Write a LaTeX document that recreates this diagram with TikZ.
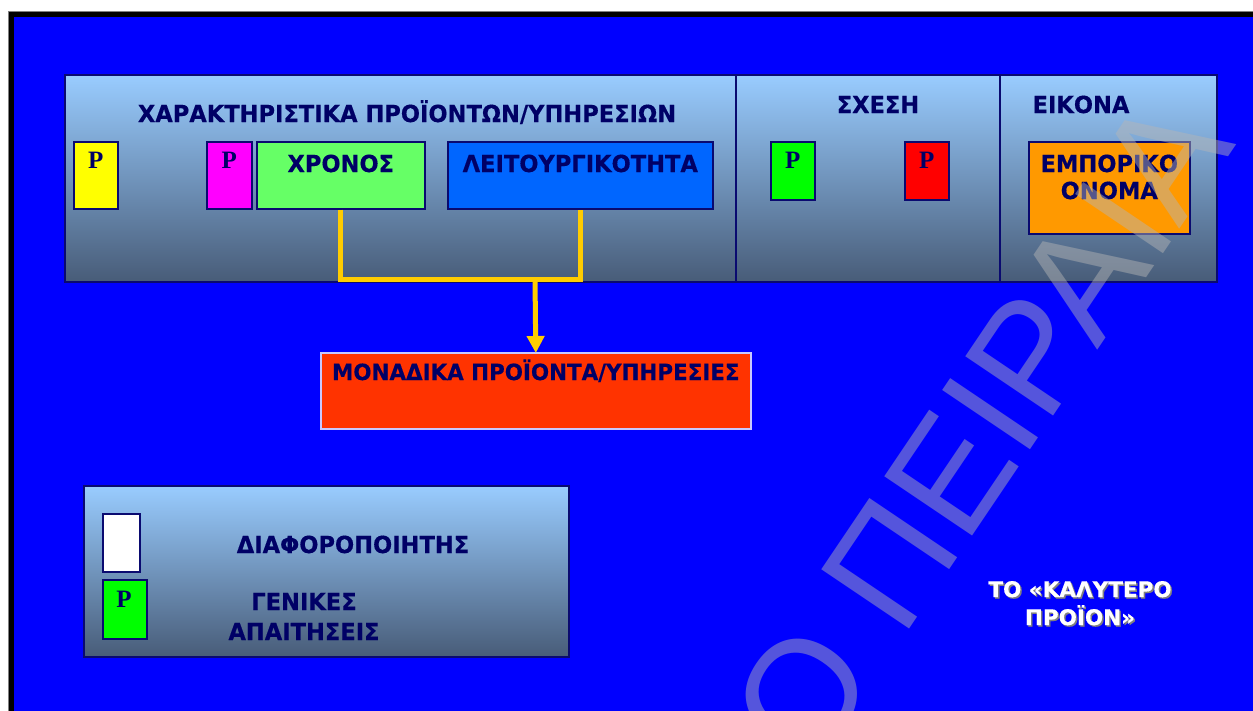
\documentclass[tikz,border=0pt]{standalone}
\usepackage{fontspec}
\usetikzlibrary{arrows.meta,calc}
\newfontfamily\lblfont[FakeStretch=0.96,BoldFeatures={FakeBold=0.4}]{DejaVu Sans}
\newfontfamily\capfont[BoldFeatures={FakeBold=0.4}]{DejaVu Sans}
\newfontfamily\pfont{Liberation Serif}
\newfontfamily\wmfont{Liberation Sans}
\definecolor{navy}{HTML}{000066}
\definecolor{edge}{HTML}{0A0A70}
\definecolor{bgblue}{HTML}{0000FF}
\definecolor{paneltop}{HTML}{99CCFF}
\definecolor{panelbot}{HTML}{485C78}
\definecolor{pyellow}{HTML}{FFFF00}
\definecolor{pmagenta}{HTML}{FF00FF}
\definecolor{pgreen}{HTML}{00FF00}
\definecolor{pred}{HTML}{FF0000}
\definecolor{timegreen}{HTML}{66FF66}
\definecolor{funcblue}{HTML}{0066FF}
\definecolor{brandorange}{HTML}{FF9900}
\definecolor{uniquered}{HTML}{FF3300}
\definecolor{uniqueedge}{HTML}{C8C8FF}
\definecolor{linkyellow}{HTML}{FFCC00}
\definecolor{wmgray}{HTML}{B6B6B6}
\begin{document}
\begin{tikzpicture}[x=1pt,y=-1pt,
  panel/.style={draw=edge, line width=1.6pt, top color=paneltop, bottom color=panelbot,
    inner sep=0pt, anchor=north west},
  card/.style={draw=edge, line width=1.6pt, inner sep=0pt, anchor=north west},
  lbl/.style={text=navy, inner sep=0pt, anchor=base,
    font=\lblfont\bfseries\fontsize{23.5}{27}\selectfont},
  plbl/.style={text=navy, inner sep=0pt, anchor=base,
    font=\pfont\bfseries\fontsize{25}{28}\selectfont},
  link/.style={draw=linkyellow, line width=5pt, line join=miter},
  bestlbl/.style={inner sep=0pt, anchor=base,
    font=\capfont\bfseries\fontsize{21.5}{25}\selectfont}
]
% page, black frame and blue field
\useasboundingbox (0,0) rectangle (1253,710);
\clip (0,0) rectangle (1253,710);
\fill[white] (0,0) rectangle (1253,710);
\filldraw[fill=black, draw=gray, line width=0.8pt] (8.5,11.5) rectangle (1260,720);
\fill[bgblue] (14,17) rectangle (1260,720);

% upper panel with three sections
\node[panel, minimum width=1152pt, minimum height=207pt] (top) at (64,74) {};
\draw[edge, line width=1.6pt] ($(top.north west)+(672,0)$) -- ($(top.south west)+(672,0)$);
\draw[edge, line width=1.6pt] ($(top.north west)+(936,0)$) -- ($(top.south west)+(936,0)$);

\node[lbl] (title) at (407,122) {ΧΑΡΑΚΤΗΡΙΣΤΙΚΑ ΠΡΟΪΟΝΤΩΝ/ΥΠΗΡΕΣΙΩΝ};
\node[lbl] (relation) at (878,113) {ΣΧΕΣΗ};
\node[lbl] (image) at (1081,113) {ΕΙΚΟΝΑ};

\node[card, fill=pyellow, minimum width=44pt, minimum height=67pt] (py) at (73,141) {};
\node[card, fill=pmagenta, minimum width=45pt, minimum height=67pt] (pm) at (206,141) {};
\node[card, fill=timegreen, minimum width=168pt, minimum height=67pt] (time) at (256,141) {};
\node[card, fill=funcblue, minimum width=265pt, minimum height=67pt] (func) at (447,141) {};
\node[card, fill=pgreen, minimum width=44pt, minimum height=58pt] (pg) at (770,141) {};
\node[card, fill=pred, minimum width=44pt, minimum height=58pt] (pr) at (904,141) {};
\node[card, fill=brandorange, minimum width=161pt, minimum height=92pt] (brand) at (1028,141) {};

\node[plbl] (pyt) at ($(py.north)+(0,27)$) {P};
\node[plbl] (pmt) at ($(pm.north)+(0,27)$) {P};
\node[plbl] (pgt) at ($(pg.north)+(0,27)$) {P};
\node[plbl] (prt) at ($(pr.north)+(0,27)$) {P};
\node[lbl] (timet) at ($(time.north)+(0,31)$) {ΧΡΟΝΟΣ};
\node[lbl] (funct) at ($(func.north)+(0,31)$) {ΛΕΙΤΟΥΡΓΙΚΟΤΗΤΑ};
\node[lbl] (brand1) at ($(brand.north)+(0,31)$) {ΕΜΠΟΡΙΚΟ};
\node[lbl] (brand2) at ($(brand.north)+(0,58)$) {ΟΝΟΜΑ};

% result box
\node[card, draw=uniqueedge, fill=uniquered, minimum width=430pt, minimum height=76pt] (unique) at (320,352) {};
\node[lbl, font=\lblfont\bfseries\fontsize{22.3}{26}\selectfont] (uniquet)
  at ($(unique.north)+(0,28)$) {ΜΟΝΑΔΙΚΑ ΠΡΟΪΟΝΤΑ/ΥΠΗΡΕΣΙΕΣ};

% yellow connector
\coordinate (join) at (535,279);
\draw[link] (time.south) |- (join) -| (func.south);
\draw[link, -{Triangle[width=17pt,length=17pt]}, shorten >=-1pt] (join) -- (unique.north);

% legend panel
\node[panel, minimum width=485pt, minimum height=171pt] (legend) at (83,485) {};
\node[card, fill=white, minimum width=37pt, minimum height=58pt] (lw) at (102,513) {};
\node[card, fill=pgreen, minimum width=44pt, minimum height=59pt] (lg) at (102,579) {};
\node[plbl] (lgt) at (124,607) {P};
\node[lbl] (diff) at (353,553) {ΔΙΑΦΟΡΟΠΟΙΗΤΗΣ};
\node[lbl] (gen1) at (304,610) {ΓΕΝΙΚΕΣ};
\node[lbl] (gen2) at (304,640) {ΑΠΑΙΤΗΣΕΙΣ};

% shadowed caption
\node[bestlbl, text=gray] (best1s) at (1081.5,598.5) {ΤΟ «ΚΑΛΥΤΕΡΟ};
\node[bestlbl, text=gray] (best2s) at (1081.5,626.5) {ΠΡΟΪΟΝ»};
\node[bestlbl, text=white] (best1) at (1080,597) {ΤΟ «ΚΑΛΥΤΕΡΟ};
\node[bestlbl, text=white] (best2) at (1080,625) {ΠΡΟΪΟΝ»};

% translucent watermark
\node[inner sep=0pt, anchor=base west, rotate=56, text=wmgray, text opacity=0.47,
  font=\wmfont\fontsize{154}{160}\selectfont] (wmark) at (812,774) {Ο ΠΕΙΡΑΙΑ};
\end{tikzpicture}
\end{document}
